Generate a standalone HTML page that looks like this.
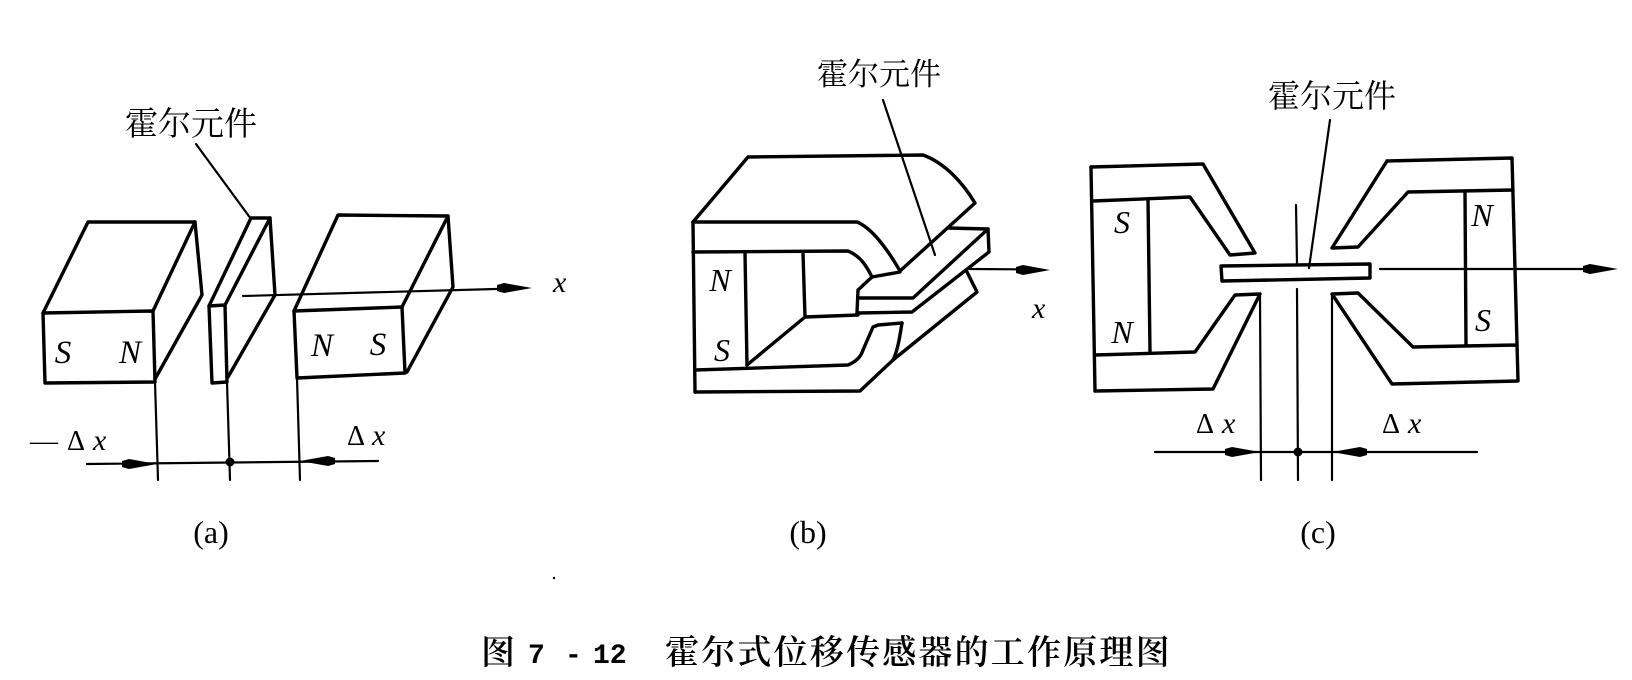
<!DOCTYPE html>
<html>
<head>
<meta charset="utf-8">
<style>
  html,body{margin:0;padding:0;background:#fff;}
  svg{display:block;}
  .k{fill:none;stroke:#000;stroke-width:3.4;stroke-linejoin:round;stroke-linecap:round;}
  .t{fill:none;stroke:#000;stroke-width:2.2;stroke-linecap:round;}
  .cn{font-family:"Liberation Serif","Noto Serif CJK SC","Noto Sans CJK SC",serif;fill:#000;}
  .it{font-family:"Liberation Serif",serif;font-style:italic;fill:#000;}
  .rm{font-family:"Liberation Serif",serif;fill:#000;}
</style>
</head>
<body>
<svg width="1632" height="680" viewBox="0 0 1632 680" xmlns="http://www.w3.org/2000/svg">
  <rect width="1632" height="680" fill="#fff"/>

  <!-- ================= (a) ================= -->
  <text class="cn" x="125" y="135" font-size="33">霍尔元件</text>
  <line class="t" x1="196" y1="144" x2="251" y2="219"/>

  <!-- left magnet -->
  <polygon class="k" points="43,313 153,311 155,382 45,383"/>
  <polyline class="k" points="43,313 88,222 195,222 153,311"/>
  <polyline class="k" points="195,222 202,295 155,379"/>
  <text class="it" x="63" y="363" font-size="33" text-anchor="middle">S</text>
  <text class="it" x="130" y="363" font-size="33" text-anchor="middle">N</text>

  <!-- hall element -->
  <polygon class="k" points="209,306 225,305 227,382 212,383"/>
  <polyline class="k" points="209,306 251,218 270,218 225,305"/>
  <polyline class="k" points="270,218 275,295 228,377"/>

  <!-- right magnet -->
  <polygon class="k" points="294,311 402,307 405,373 297,378"/>
  <polyline class="k" points="294,311 338,215 448,216 402,307"/>
  <polyline class="k" points="448,216 453,287 407,372"/>
  <text class="it" x="322" y="356" font-size="33" text-anchor="middle">N</text>
  <text class="it" x="378" y="355" font-size="33" text-anchor="middle">S</text>

  <!-- axis -->
  <line class="t" x1="243" y1="296" x2="520" y2="288.3"/>
  <polygon fill="#000" points="532,288 504,283 497,285 497,291 504,293"/>
  <text class="it" x="553" y="292" font-size="30">x</text>

  <!-- extension lines -->
  <line class="t" x1="155" y1="382" x2="158" y2="480" stroke-width="2.6"/>
  <line class="t" x1="227" y1="382" x2="230" y2="480" stroke-width="2.6"/>
  <line class="t" x1="297" y1="378" x2="300" y2="480" stroke-width="2.6"/>
  <!-- dimension line -->
  <line class="t" x1="87" y1="464" x2="378" y2="461"/>
  <polygon fill="#000" points="157,464 129,459 122,461 122,467 129,469"/>
  <polygon fill="#000" points="300,461 328,456 335,458 335,464 328,466"/>
  <circle cx="230" cy="462" r="4.5" fill="#000"/>
  <text class="rm" x="30" y="450" font-size="28">—</text>
  <text class="rm" x="67" y="450" font-size="28">Δ</text>
  <text class="it" x="93" y="450" font-size="30">x</text>
  <text class="rm" x="347" y="445" font-size="28">Δ</text>
  <text class="it" x="372" y="445" font-size="30">x</text>

  <text class="rm" x="211" y="543" font-size="32" text-anchor="middle">(a)</text>

  <!-- ================= (b) ================= -->
  <text class="cn" x="817" y="85" font-size="31">霍尔元件</text>
  <line class="t" x1="883" y1="100" x2="935" y2="255"/>

  <!-- top face -->
  <path class="k" d="M693,222 L748,157 L923,155 C945,163 963,183 975,203 L900,271"/>
  <!-- top arm front -->
  <path class="k" d="M693,222 L857,222 C872,228 888,250 900,271"/>
  <path class="k" d="M693,252 L848,251 C860,256 866,265 872,277 L900,272"/>
  <path class="k" d="M872,277 L858,290 L857,313"/>
  <!-- plate -->
  <path class="k" d="M858,298 L913,298 L988,229 L948,228"/>
  <path class="k" d="M988,229 L989,252 L912,312 L858,313"/>
  <!-- magnet -->
  <line class="k" x1="693" y1="222" x2="695" y2="392"/>
  <line class="k" x1="745" y1="253" x2="747" y2="365"/>
  <path class="k" d="M803,253 L805,317 L747,365"/>
  <line class="k" x1="805" y1="317" x2="858" y2="315"/>
  <text class="it" x="720" y="291" font-size="32" text-anchor="middle">N</text>
  <text class="it" x="722" y="361" font-size="32" text-anchor="middle">S</text>
  <!-- bottom arm -->
  <path class="k" d="M695,370 L848,365 Q860,360 863,350 L873,327 L878,325 L902,323"/>
  <path class="k" d="M695,392 L860,391 L893,360 C898,350 900,335 902,323"/>
  <path class="k" d="M967,272 L977,292 L893,360"/>
  <!-- axis -->
  <line class="t" x1="970" y1="269" x2="1040" y2="269.5"/>
  <polygon fill="#000" points="1050,270 1023,265 1016,267 1016,273 1023,275"/>
  <text class="it" x="1032" y="318" font-size="30">x</text>

  <text class="rm" x="808" y="543" font-size="32" text-anchor="middle">(b)</text>

  <!-- ================= (c) ================= -->
  <text class="cn" x="1268" y="107" font-size="32">霍尔元件</text>
  <line class="t" x1="1330" y1="120" x2="1309" y2="268"/>

  <!-- left yoke -->
  <path class="k" d="M1091,167 L1203,164 L1255,253 L1230,255 L1190,197 L1093,201"/>
  <line class="k" x1="1091" y1="167" x2="1095" y2="391"/>
  <line class="k" x1="1148" y1="199" x2="1150" y2="352"/>
  <path class="k" d="M1095,355 L1195,352 L1235,295 L1260,294 L1213,389 L1095,391"/>
  <text class="it" x="1122" y="233" font-size="32" text-anchor="middle">S</text>
  <text class="it" x="1122" y="343" font-size="32" text-anchor="middle">N</text>

  <!-- right yoke -->
  <path class="k" d="M1387,161 L1512,158 L1518,381 L1392,384 L1332,294 L1358,293 L1413,347 L1516,345"/>
  <path class="k" d="M1387,161 L1332,248 L1358,247 L1408,192 L1513,190"/>
  <line class="k" x1="1465" y1="192" x2="1466" y2="345"/>
  <text class="it" x="1482" y="226" font-size="32" text-anchor="middle">N</text>
  <text class="it" x="1483" y="331" font-size="32" text-anchor="middle">S</text>

  <!-- hall plate -->
  <polygon class="k" points="1221,266 1370,264 1370,278 1222,281" stroke-width="3"/>
  <line class="t" x1="1296" y1="205" x2="1297" y2="264" stroke-width="2.6"/>
  <line class="t" x1="1297" y1="289" x2="1298" y2="480" stroke-width="2.6"/>

  <!-- axis -->
  <line class="t" x1="1380" y1="269" x2="1605" y2="269"/>
  <polygon fill="#000" points="1618,269 1590,264 1583,266 1583,272 1590,274"/>

  <!-- extension & dimension -->
  <line class="t" x1="1260" y1="294" x2="1261" y2="480" stroke-width="2.6"/>
  <line class="t" x1="1332" y1="294" x2="1332" y2="480" stroke-width="2.6"/>
  <line class="t" x1="1155" y1="452" x2="1477" y2="452"/>
  <polygon fill="#000" points="1260,452 1232,447 1225,449 1225,455 1232,457"/>
  <polygon fill="#000" points="1332,452 1360,447 1367,449 1367,455 1360,457"/>
  <circle cx="1298" cy="452" r="4.5" fill="#000"/>
  <text class="rm" x="1196" y="433" font-size="28">Δ</text>
  <text class="it" x="1222" y="433" font-size="30">x</text>
  <text class="rm" x="1382" y="433" font-size="28">Δ</text>
  <text class="it" x="1408" y="433" font-size="30">x</text>

  <text class="rm" x="1318" y="543" font-size="32" text-anchor="middle">(c)</text>

  <!-- ================= caption ================= -->
  <text class="cn" x="481" y="664" font-size="34" font-weight="600">图</text>
  <text x="528" y="663" font-size="28" font-family="'Liberation Mono',monospace" font-weight="bold" fill="#000">7</text>
  <text x="565" y="663" font-size="28" font-family="'Liberation Mono',monospace" font-weight="bold" fill="#000">-</text>
  <text x="593" y="663" font-size="28" font-family="'Liberation Mono',monospace" font-weight="bold" fill="#000">12</text>
  <text class="cn" x="665" y="664" font-size="34" font-weight="600" letter-spacing="2.2">霍尔式位移传感器的工作原理图</text>

  <circle cx="554" cy="578" r="1.2" fill="#000"/>
</svg>
</body>
</html>
